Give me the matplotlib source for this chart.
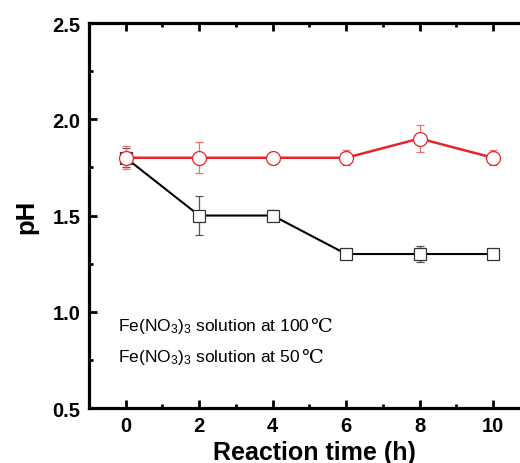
import matplotlib.pyplot as plt
from matplotlib.ticker import MultipleLocator

plt.rcParams['font.family'] = ['Liberation Sans', 'DejaVu Sans']
plt.rcParams['mathtext.default'] = 'regular'

# pH vs reaction time
time_h = [0, 2, 4, 6, 8, 10]
ph_100 = [1.80, 1.80, 1.80, 1.80, 1.90, 1.80]
err_100 = [0.06, 0.08, 0.03, 0.04, 0.07, 0.04]
ph_50 = [1.80, 1.50, 1.50, 1.30, 1.30, 1.30]
err_50 = [0.05, 0.10, 0.03, 0.01, 0.04, 0.02]

labels = ['Fe(NO$_3$)$_3$ solution at 100', 'Fe(NO$_3$)$_3$ solution at 50']
label_y = [0.203, 0.122]

fig = plt.figure(figsize=(5.2, 4.64), dpi=100)
ax = fig.add_axes([0.171, 0.1185, 0.848, 0.8297])

ax.errorbar(time_h, ph_50, yerr=err_50, color='black', lw=1.5,
            marker='s', ms=8, mfc='white', mec='#333333', mew=0.9,
            ecolor='#555555', elinewidth=0.9, capsize=3, capthick=0.9,
            zorder=3)
ax.errorbar(time_h, ph_100, yerr=err_100, color='#e8242a', lw=1.8,
            marker='o', ms=10, mfc='white', mec='#e8242a', mew=0.9,
            ecolor='#f07070', elinewidth=0.9, capsize=3, capthick=0.9,
            zorder=4)

# the degree-Celsius sign is added as its own text right after each label
for lab, yy in zip(labels, label_y):
    t = ax.text(0.067, yy, lab, transform=ax.transAxes, fontsize=12.5,
                va='baseline', ha='left')
    ax.annotate('℃', xy=(1, 0), xycoords=t, xytext=(0, 0),
                textcoords='offset points', fontsize=14,
                family='DejaVu Serif', va='bottom', ha='left')

ax.set_xlim(-1, 11)
ax.set_ylim(0.5, 2.5)
ax.xaxis.set_major_locator(MultipleLocator(2))
ax.xaxis.set_minor_locator(MultipleLocator(1))
ax.yaxis.set_major_locator(MultipleLocator(0.5))
ax.yaxis.set_minor_locator(MultipleLocator(0.25))
ax.yaxis.set_major_formatter(plt.FormatStrFormatter('%.1f'))

for s in ax.spines.values():
    s.set_linewidth(2.3)
ax.tick_params(which='both', direction='in', top=True, right=True, width=2)
ax.tick_params(which='major', length=5.5, labelsize=14.5, pad=6)
ax.tick_params(which='minor', length=3)
for lab in ax.get_xticklabels() + ax.get_yticklabels():
    lab.set_fontweight('bold')

ax.set_xlabel('Reaction time (h)', fontsize=18, fontweight='bold')
ax.xaxis.set_label_coords(0.512, -0.083, transform=ax.transAxes)
ax.xaxis.label.set_va('top')
ax.set_ylabel('pH', fontsize=18.5, fontweight='bold', labelpad=10)

fig.savefig('out.png', dpi=100)
